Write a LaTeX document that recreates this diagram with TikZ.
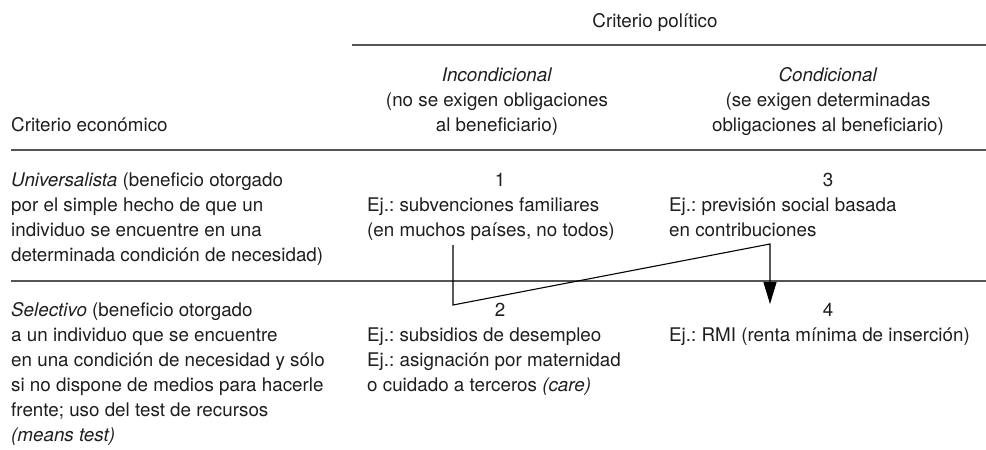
\documentclass[tikz,border=0pt]{standalone}
\usepackage{fontspec}
\setmainfont{TeX Gyre Heros}
\usetikzlibrary{arrows.meta}
\newcommand\tabfont{\fontsize{18.8}{25}\selectfont\frenchspacing}
\definecolor{inkc}{HTML}{1E1E1E}
\definecolor{rulec}{HTML}{555555}
\begin{document}
\begin{tikzpicture}[x=1pt,y=-1pt,
  txt/.style={font=\tabfont, inner sep=0pt, text=inkc, align=left, anchor=north west},
  ctxt/.style={font=\tabfont, inner sep=0pt, text=inkc, align=center, anchor=north},
  rulel/.style={draw=rulec, line width=1.8pt},
  conn/.style={draw=black, line width=1.1pt}]
\useasboundingbox (0,0) rectangle (986,450);

% header
\node[ctxt] (title) at (655,9.5) {\strut Criterio político};
\draw[rulel] (352,45) -- (986,45);
\node[ctxt] (incond) at (497,63.5) {\strut\textit{Incondicional}\\(no se exigen obligaciones\\al beneficiario)};
\node[ctxt] (cond) at (828,63.5) {\strut\textit{Condicional}\\(se exigen determinadas\\obligaciones al beneficiario)};
\node[txt] (econ) at (11,113.5) {\strut Criterio económico};
\draw[rulel] (11,150) -- (986,150);

% upper row
\node[txt] (univ) at (11,168.5) {\strut\textit{Universalista} (beneficio otorgado\\por el simple hecho de que un\\individuo se encuentre en una\\determinada condición de necesidad)};
\node[ctxt] (n1) at (500,168.5) {\strut 1};
\node[txt] (ex1) at (367,193.5) {\strut Ej.: subvenciones familiares\\(en muchos países, no todos)};
\node[ctxt] (n3) at (828,168.5) {\strut 3};
\node[txt] (ex3) at (669,193.5) {\strut Ej.: previsión social basada\\en contribuciones};
\draw[rulel] (11,281) -- (986,281);

% lower row
\node[txt] (sel) at (11,298.5) {\strut\textit{Selectivo} (beneficio otorgado\\a un individuo que se encuentre\\en una condición de necesidad y sólo\\si no dispone de medios para hacerle\\frente; uso del test de recursos\\\textit{(means test)}};
\node[ctxt] (n2) at (500,298.5) {\strut 2};
\node[txt] (ex2) at (367,323.5) {\strut Ej.: subsidios de desempleo\\Ej.: asignación por maternidad\\o cuidado a terceros \textit{(care)}};
\node[ctxt] (n4) at (828,298.5) {\strut 4};
\node[txt] (ex4) at (669,323.5) {\strut Ej.: RMI (renta mínima de inserción)};

% connector
\coordinate (p1) at (453,245);
\coordinate (p2) at (453,305);
\coordinate (p3) at (770,244);
\coordinate (p4) at (770,304);
\draw[conn, line join=miter, -{Triangle[length=22pt,width=13pt]}] (p1) -- (p2) -- (p3) -- (p4);
\end{tikzpicture}
\end{document}
